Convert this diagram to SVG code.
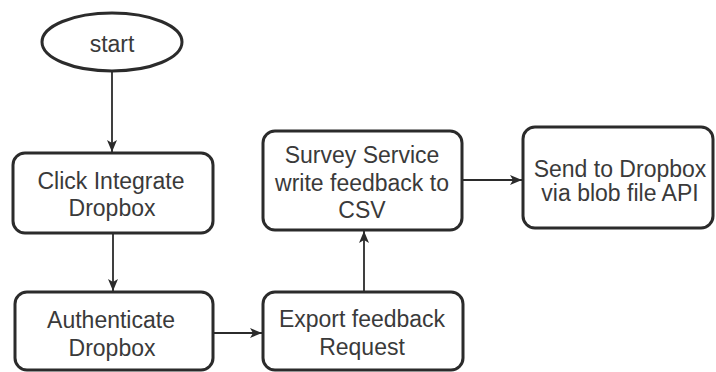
<svg xmlns="http://www.w3.org/2000/svg" width="716" height="372" viewBox="0 0 716 372">
<defs>
<marker id="arr" viewBox="0 0 12 10" refX="12" refY="5" markerWidth="12" markerHeight="10" markerUnits="userSpaceOnUse" orient="auto">
<path d="M0,0 L12,5 L0,10 L3,5 Z" fill="#2b2b2b"/>
</marker>
<style>
.box{fill:#fff;stroke:#2b2b2b;stroke-width:3}
.t{font-family:"Liberation Sans",Arial,sans-serif;font-size:23px;fill:#3a3a3a;text-anchor:middle}
.c{fill:none;stroke:#2b2b2b;stroke-width:1.8;marker-end:url(#arr)}
</style>
</defs>
<rect width="716" height="372" fill="#fff"/>
<g id="connectors">
<line class="c" x1="112" y1="72" x2="112" y2="152"/>
<line class="c" x1="113" y1="233" x2="113" y2="291"/>
<line class="c" x1="213" y1="333" x2="262" y2="333"/>
<line class="c" x1="364" y1="292" x2="364" y2="231"/>
<line class="c" x1="462" y1="180" x2="522" y2="180"/>
</g>
<g id="start">
<ellipse class="box" cx="112" cy="42" rx="70" ry="29"/>
<text class="t" x="112" y="52">start</text>
</g>
<g id="click">
<rect class="box" x="13" y="153" width="200" height="80" rx="12"/>
<text class="t" x="111" y="189">Click Integrate</text>
<text class="t" x="112" y="216">Dropbox</text>
</g>
<g id="auth">
<rect class="box" x="15" y="292" width="198" height="78" rx="12"/>
<text class="t" x="111" y="328">Authenticate</text>
<text class="t" x="112" y="356">Dropbox</text>
</g>
<g id="export">
<rect class="box" x="263" y="292" width="200" height="78" rx="12"/>
<text class="t" x="362" y="327">Export feedback</text>
<text class="t" x="362" y="355">Request</text>
</g>
<g id="survey">
<rect class="box" x="263" y="131" width="199" height="99" rx="12"/>
<text class="t" x="362" y="163">Survey Service</text>
<text class="t" x="362" y="191">write feedback to</text>
<text class="t" x="362" y="218">CSV</text>
</g>
<g id="send">
<rect class="box" x="523" y="127" width="190" height="101" rx="12"/>
<text class="t" x="620" y="177">Send to Dropbox</text>
<text class="t" x="620" y="201">via blob file API</text>
</g>
</svg>
